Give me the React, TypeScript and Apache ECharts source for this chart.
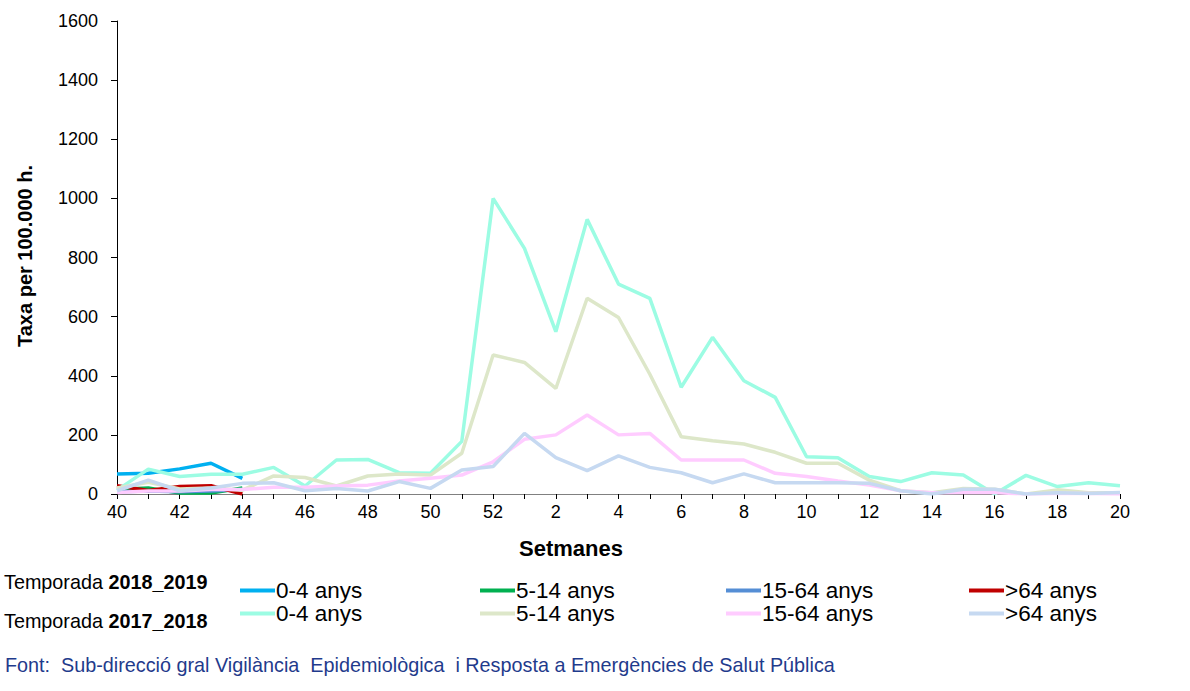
import React, { useEffect, useRef } from "react";
import * as echarts from "echarts";

const weeks = [
  "40", "41", "42", "43", "44", "45", "46", "47", "48", "49", "50", "51", "52",
  "1", "2", "3", "4", "5", "6", "7", "8", "9", "10", "11", "12", "13", "14", "15", "16", "17", "18", "19", "20",
];

// Temporada 2018_2019
const s1819_04 = [68, 70, 85, 104, 53];
const s1819_514 = [15, 20, 3, 3, 20];
const s1819_1564 = [8, 10, 8, 10, 15];
const s1819_64 = [28, 12, 25, 28, 0];

// Temporada 2017_2018
const s1718_04 = [13, 84, 59, 67, 67, 90, 27, 115, 117, 72, 70, 178, 1000, 831, 549, 929, 710, 662, 361, 530, 383, 327, 126, 123, 59, 42, 72, 64, 0, 63, 25, 38, 28];
const s1718_514 = [20, 40, 17, 20, 13, 61, 56, 27, 61, 68, 64, 138, 470, 445, 357, 662, 597, 405, 194, 180, 169, 141, 104, 104, 47, 11, 4, 19, 16, 0, 14, 4, 4];
const s1718_1564 = [5, 10, 10, 15, 15, 23, 23, 27, 30, 44, 53, 64, 109, 185, 200, 267, 200, 205, 115, 115, 115, 70, 59, 44, 30, 11, 4, 5, 5, 0, 2, 2, 0];
const s1718_64 = [11, 47, 11, 20, 36, 38, 11, 19, 10, 42, 19, 81, 93, 205, 123, 79, 129, 90, 72, 38, 68, 38, 38, 38, 36, 11, 0, 16, 16, 0, 4, 2, 5];

const ageLabels = ["0-4 anys", "5-14 anys", "15-64 anys", ">64 anys"];
const seasons = ["2018_2019", "2017_2018"];

const FONT = "'Liberation Sans', Arial, sans-serif";

const seriesDefs = [
  { name: "0-4 anys|2018_2019", data: s1819_04, color: "#00B0F0" },
  { name: "5-14 anys|2018_2019", data: s1819_514, color: "#00B050" },
  { name: "15-64 anys|2018_2019", data: s1819_1564, color: "#558ED5" },
  { name: ">64 anys|2018_2019", data: s1819_64, color: "#C00000" },
  { name: "0-4 anys|2017_2018", data: s1718_04, color: "#9CFCE3" },
  { name: "5-14 anys|2017_2018", data: s1718_514, color: "#DDE7C9" },
  { name: "15-64 anys|2017_2018", data: s1718_1564, color: "#FFCCFF" },
  { name: ">64 anys|2017_2018", data: s1718_64, color: "#C6D9F1" },
];

const legendX = [240, 480, 726, 969];
const legendTop = [579, 602];

export default function App() {
  const ref = useRef<HTMLDivElement>(null);
  useEffect(() => {
    document.body.style.margin = "0";
    if (!ref.current) return;
    const chart = echarts.init(ref.current, null, { renderer: "svg" });
    const legends: any[] = [];
    seasons.forEach((season, si) => {
      ageLabels.forEach((age, ai) => {
        legends.push({
          show: true,
          left: legendX[ai],
          top: legendTop[si],
          orient: "horizontal",
          selectedMode: false,
          icon: "rect",
          itemWidth: 35,
          itemHeight: 4,
          itemGap: 0,
          padding: 0,
          data: [age + "|" + season],
          formatter: (n: string) => n.split("|")[0],
          textStyle: { fontFamily: FONT, fontSize: 22.5, color: "#000", padding: [0, 0, 0, -4] },
        });
      });
    });
    const option: any = {
      animation: false,
      backgroundColor: "#fff",
      grid: { left: 117, right: 70, top: 21, bottom: 197, containLabel: false },
      legend: legends,
      xAxis: {
        type: "category",
        data: weeks,
        boundaryGap: false,
        axisLine: { show: true, lineStyle: { color: "#808080", width: 1 } },
        axisTick: { show: true, interval: 0, length: 5, lineStyle: { color: "#000" } },
        axisLabel: { interval: 1, color: "#000", fontSize: 18, fontFamily: FONT, margin: 9 },
        splitLine: { show: false },
      },
      yAxis: {
        type: "value",
        min: 0,
        max: 1600,
        interval: 200,
        axisLine: { show: true, lineStyle: { color: "#000", width: 1 } },
        axisTick: { show: true, length: 6, lineStyle: { color: "#000" } },
        axisLabel: {
          color: "#000",
          fontSize: 18,
          fontFamily: FONT,
          margin: 19,
          formatter: (v: number) => String(v),
        },
        splitLine: { show: false },
      },
      series: seriesDefs.map((s) => ({
        name: s.name,
        type: "line",
        data: s.data,
        symbol: "none",
        showSymbol: false,
        color: s.color,
        lineStyle: { color: s.color, width: 3.5 },
      })),
      graphic: [
        {
          type: "text",
          x: 25,
          y: 256,
          rotation: Math.PI / 2,
          style: {
            text: "Taxa per 100.000 h.",
            font: "bold 20px " + FONT,
            fill: "#000",
            align: "center",
            verticalAlign: "middle",
          },
        },
        {
          type: "text",
          x: 571,
          y: 548,
          style: {
            text: "Setmanes",
            font: "bold 22px " + FONT,
            fill: "#000",
            align: "center",
            verticalAlign: "middle",
          },
        },
        {
          type: "text",
          x: 4,
          y: 582,
          style: {
            text: "Temporada {b|2018_2019}",
            font: "19.8px " + FONT,
            fill: "#000",
            verticalAlign: "middle",
            rich: { b: { fontWeight: "bold", fontSize: 19.8, fontFamily: FONT, fill: "#000" } },
          },
        },
        {
          type: "text",
          x: 4,
          y: 621,
          style: {
            text: "Temporada {b|2017_2018}",
            font: "19.8px " + FONT,
            fill: "#000",
            verticalAlign: "middle",
            rich: { b: { fontWeight: "bold", fontSize: 19.8, fontFamily: FONT, fill: "#000" } },
          },
        },
        {
          type: "text",
          x: 5,
          y: 665,
          style: {
            text: "Font:  Sub-direcció gral Vigilància  Epidemiològica  i Resposta a Emergències de Salut Pública",
            font: "19.8px " + FONT,
            fill: "#1F3B8C",
            verticalAlign: "middle",
          },
        },
      ],
    };
    chart.setOption(option);
    return () => chart.dispose();
  }, []);
  return <div ref={ref} style={{ width: 1190, height: 691 }} />;
}
